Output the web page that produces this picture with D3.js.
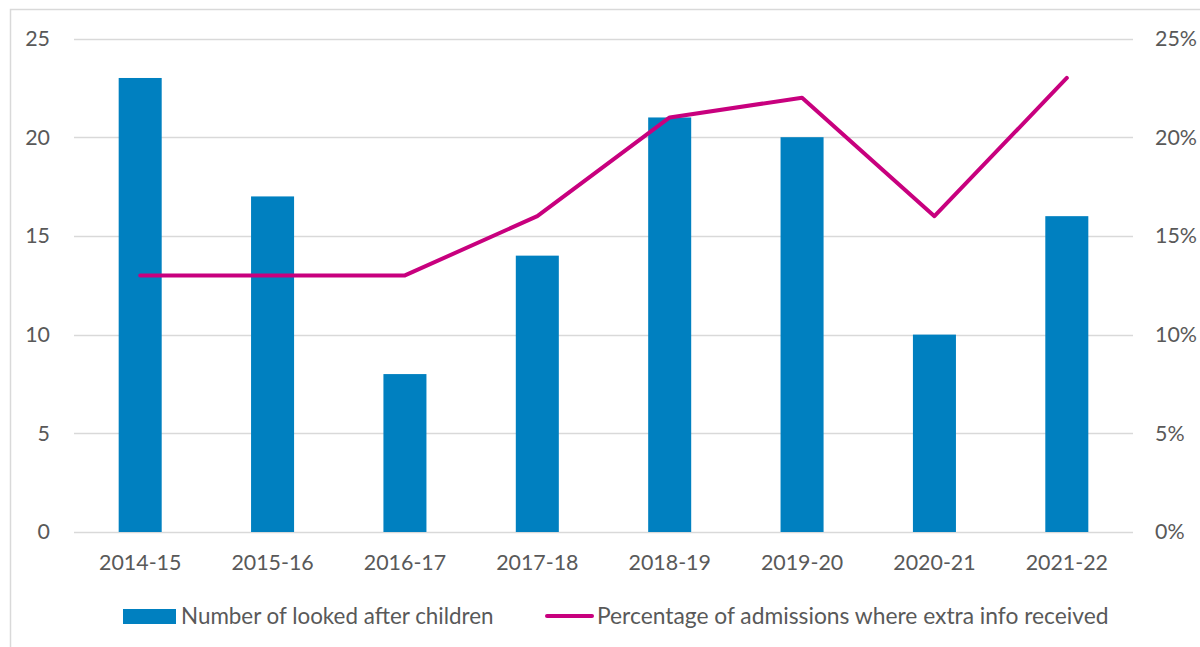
<!DOCTYPE html>
<html><head><meta charset="utf-8">
<script src="https://cdn.jsdelivr.net/npm/d3@7"></script>
<style>body{margin:0;background:#fff}svg{display:block}text{font-family:Lato,"Open Sans",sans-serif;fill:#595959}</style>
</head><body><svg id="c" width="1200" height="647"></svg>
<script>
const categories = ["2014-15","2015-16","2016-17","2017-18","2018-19","2019-20","2020-21","2021-22"];
const childrenCounts = [23,17,8,14,21,20,10,16];
const extraInfoPct = [13,13,13,16,21,22,16,23];
const leftTicks = [0,5,10,15,20,25];
const rightTicks = [0,5,10,15,20,25];
const seriesNames = ["Number of looked after children","Percentage of admissions where extra info received"];

const svg = d3.select("#c");
const L=74, R=1133, T=38.5, B=532;
svg.append("rect").attr("x",10.5).attr("y",9.5).attr("width",1200).attr("height",700).attr("fill","none").attr("stroke","#d9d9d9").attr("stroke-width",1.5);

const x = d3.scaleBand().domain(categories).range([L,R]).paddingInner(0.675).paddingOuter(0.3375);
const y = d3.scaleLinear().domain([0,25]).range([B,T]);
const y2 = d3.scaleLinear().domain([0,25]).range([B,T]);

const grid = svg.append("g");
grid.selectAll("line").data(leftTicks).join("line")
  .attr("x1",L).attr("x2",R).attr("y1",d=>Math.round(y(d))+0.5).attr("y2",d=>Math.round(y(d))+0.5)
  .attr("stroke","#d9d9d9").attr("stroke-width",1.5);

svg.append("g").selectAll("rect").data(childrenCounts).join("rect")
  .attr("x",(d,i)=>x(categories[i])).attr("width",x.bandwidth())
  .attr("y",d=>y(d)).attr("height",d=>B-y(d)).attr("fill","#0080C0");

const line = d3.line().x((d,i)=>x(categories[i])+x.bandwidth()/2).y(d=>y2(d));
svg.append("path").datum(extraInfoPct).attr("d",line).attr("fill","none")
  .attr("stroke","#C8007E").attr("stroke-width",4).attr("stroke-linecap","round").attr("stroke-linejoin","round");

const fs = 21.4;
const la = d3.axisLeft(y).tickValues(leftTicks).tickSize(0).tickPadding(24);
const gl = svg.append("g").attr("transform",`translate(${L},0)`).call(la);
const ra = d3.axisRight(y2).tickValues(rightTicks).tickFormat(d=>d+"%").tickSize(0).tickPadding(22);
const gr = svg.append("g").attr("transform",`translate(${R},0)`).call(ra);
const ba = d3.axisBottom(x).tickSize(0).tickPadding(23);
const gb = svg.append("g").attr("transform",`translate(0,${B})`).call(ba);
[gl,gr,gb].forEach(g=>{g.select(".domain").remove();g.selectAll("text").attr("font-size",fs).attr("fill","#595959").style("font-family","Lato,'Open Sans',sans-serif");});

const lg = svg.append("g");
lg.append("rect").attr("x",123).attr("y",609).attr("width",53).attr("height",15).attr("fill","#0080C0");
lg.append("text").attr("x",181).attr("y",624).attr("font-size",22.4).text(seriesNames[0]);
lg.append("line").attr("x1",547).attr("x2",592).attr("y1",616).attr("y2",616).attr("stroke","#C8007E").attr("stroke-width",4).attr("stroke-linecap","round");
lg.append("text").attr("x",597).attr("y",624).attr("font-size",22.8).text(seriesNames[1]);
</script></body></html>
